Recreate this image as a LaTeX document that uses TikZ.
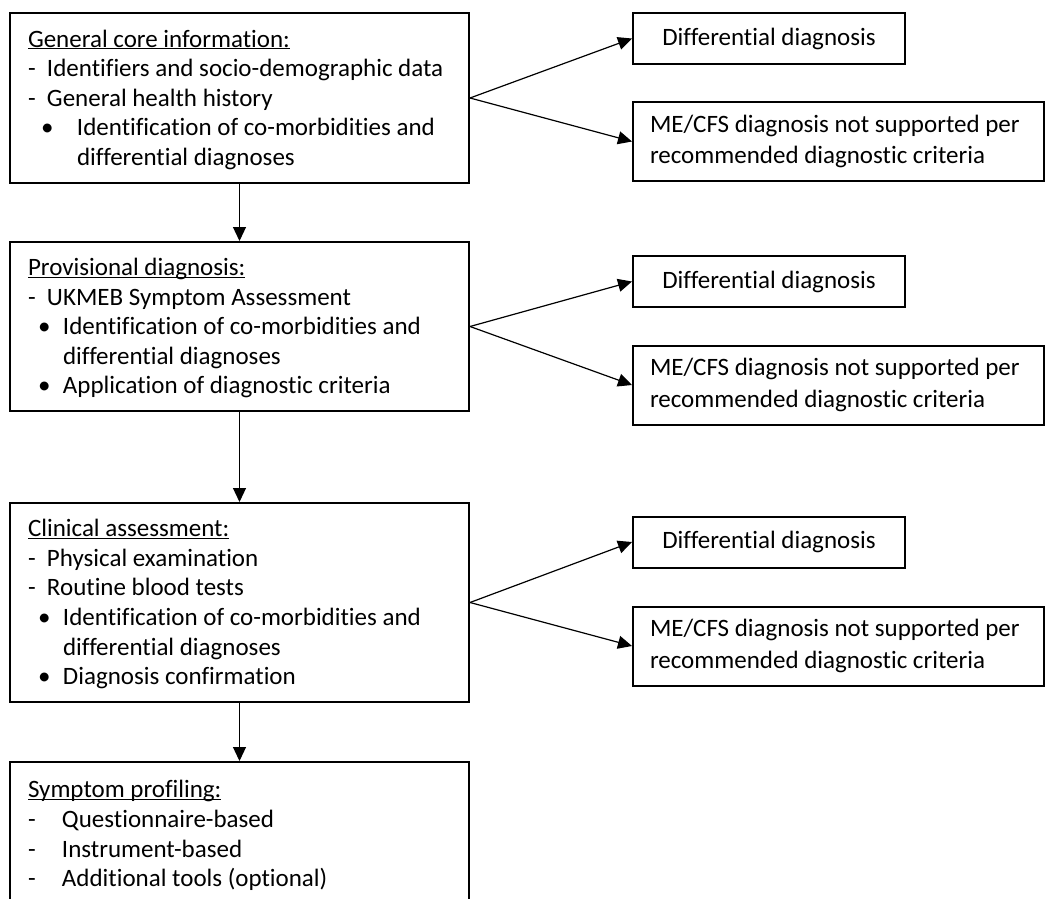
\documentclass[tikz,border=0pt]{standalone}
\usepackage{fontspec}
\setmainfont{Carlito}[Ligatures=NoCommon]
\usetikzlibrary{arrows.meta}

% heading and list lines inside the boxes
\newcommand{\head}[1]{\underline{\smash{#1}}\strut}
\newcommand{\listline}[4]{\hspace*{#1pt}\makebox[#3pt][l]{#2}#4}

\begin{document}
\begin{tikzpicture}[x=1pt,y=-1pt,
    >={Triangle[length=14pt,width=13pt]},
    step box/.style={draw,line width=2pt,align=left,inner xsep=18pt,
      text width=423pt,font=\fontsize{25}{29.6}\selectfont,
      execute at begin node={\spaceskip=0pt\xspaceskip=0pt}},
    side box/.style={draw,line width=2pt,inner xsep=17pt,
      font=\fontsize{25}{31.5}\selectfont,
      execute at begin node={\spaceskip=0pt\xspaceskip=0pt}}]

  \useasboundingbox (0,0) rectangle (1045,899);
  \clip (0,0) rectangle (1045,899);

  \node[step box,minimum height=170pt] (core) at (239.5,98) {%
    \head{General core information:}\\
    \listline{0}{-}{19}{Identifiers and socio-demographic data}\\
    \listline{0}{-}{19}{General health history}\\
    \listline{13}{•}{36}{Identification of co-morbidities and}\\
    \hspace*{49pt}differential diagnoses};
  \node[step box,minimum height=169pt] (prov) at (239.5,326.5) {%
    \head{Provisional diagnosis:}\\
    \listline{0}{-}{19}{UKMEB Symptom Assessment}\\
    \listline{10}{•}{25}{Identification of co-morbidities and}\\
    \hspace*{35pt}differential diagnoses\\
    \listline{10}{•}{25}{Application of diagnostic criteria}};
  \node[step box,minimum height=199pt] (clin) at (239.5,602.5) {%
    \head{Clinical assessment:}\\
    \listline{0}{-}{19}{Physical examination}\\
    \listline{0}{-}{19}{Routine blood tests}\\
    \listline{10}{•}{25}{Identification of co-morbidities and}\\
    \hspace*{35pt}differential diagnoses\\
    \listline{10}{•}{25}{Diagnosis confirmation}};
  \node[step box,minimum height=144pt] (prof) at (239.5,834) {%
    \head{Symptom profiling:}\\
    \listline{0}{-}{34}{Questionnaire-based}\\
    \listline{0}{-}{34}{Instrument-based}\\
    \listline{0}{-}{34}{Additional tools (optional)}};

  % outcomes on the right
  \node[side box,minimum width=272pt,minimum height=51pt] (diff1) at (769,38.5) {Differential diagnosis};
  \node[side box,minimum width=411pt,minimum height=79pt,align=left,text width=377pt] (excl1) at (838.5,141.5)
    {ME/CFS diagnosis not supported per\\recommended diagnostic criteria};
  \node[side box,minimum width=272pt,minimum height=51pt] (diff2) at (769,281.5) {Differential diagnosis};
  \node[side box,minimum width=411pt,minimum height=79pt,align=left,text width=377pt] (excl2) at (838.5,385)
    {ME/CFS diagnosis not supported per\\recommended diagnostic criteria};
  \node[side box,minimum width=272pt,minimum height=51pt] (diff3) at (769,542) {Differential diagnosis};
  \node[side box,minimum width=411pt,minimum height=79pt,align=left,text width=377pt] (excl3) at (838.5,646)
    {ME/CFS diagnosis not supported per\\recommended diagnostic criteria};

  \path[->,line width=1.2pt]
    (core) edge (prov)
    (prov) edge (clin)
    (clin) edge (prof)
    (core.east) edge (diff1.west) edge (excl1.west)
    (prov.east) edge (diff2.west) edge (excl2.west)
    (clin.east) edge (diff3.west) edge (excl3.west);

\end{tikzpicture}
\end{document}
